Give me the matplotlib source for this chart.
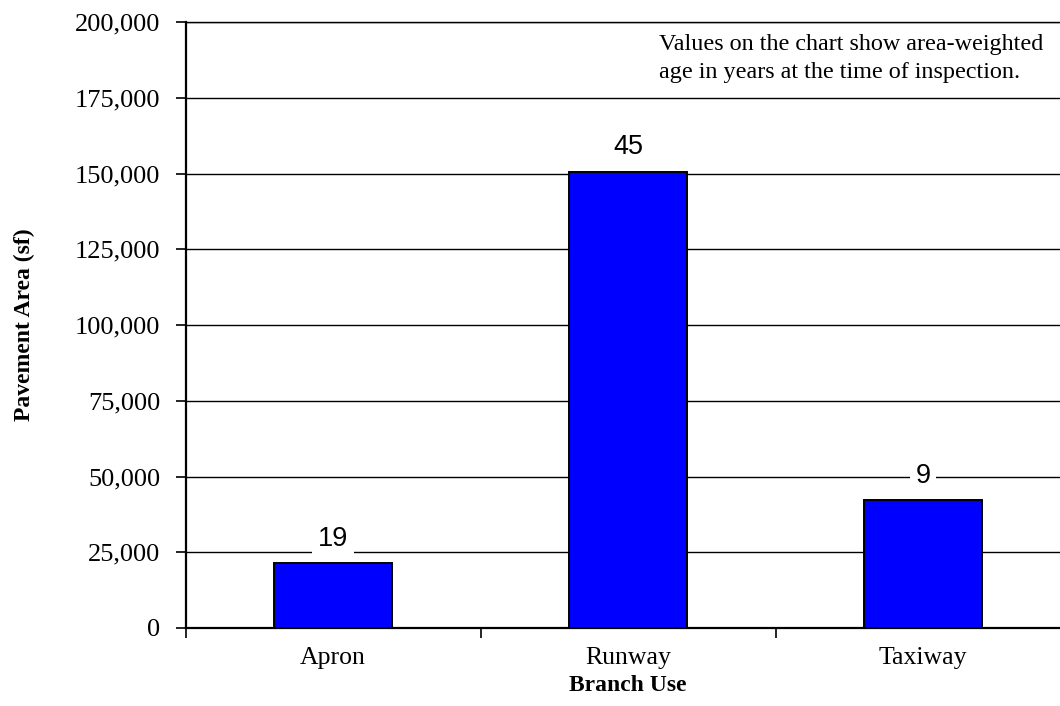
import matplotlib
matplotlib.use("Agg")
import matplotlib.pyplot as plt
from matplotlib.ticker import FuncFormatter, FixedLocator

# data
categories = ["Apron", "Runway", "Taxiway"]
areas = [21300, 150600, 42200]
ages = [19, 45, 9]

SERIF = "Liberation Serif"
SANS = "Liberation Sans"

fig = plt.figure(figsize=(10.6, 7.06), dpi=100)
ax = fig.add_axes([185.5 / 1060, 78 / 706, 885 / 1060, 606 / 706])

x = list(range(len(categories)))
bars = ax.bar(x, areas, width=0.40, color="#0000FF", edgecolor="black",
              linewidth=1.4, zorder=3)

ax.set_xlim(-0.5, 2.5)
ax.set_ylim(0, 200000)

# gridlines
ax.yaxis.grid(True, color="black", linewidth=1.0, zorder=0)
ax.set_axisbelow(True)

# y axis
ax.set_yticks(range(0, 200001, 25000))
ax.yaxis.set_major_formatter(FuncFormatter(lambda v, p: f"{int(v):,}"))
ax.tick_params(axis="y", direction="out", length=7, width=1.2,
               labelsize=19, pad=11)

# x axis: ticks at category boundaries, labels at centres
ax.xaxis.set_major_locator(FixedLocator([-0.5, 0.5, 1.5, 2.5]))
ax.xaxis.set_minor_locator(FixedLocator(x))
ax.set_xticklabels([], minor=False)
ax.set_xticklabels(categories, minor=True)
ax.tick_params(axis="x", which="major", direction="out", length=7, width=1.2)
ax.tick_params(axis="x", which="minor", length=0, labelsize=18.5, pad=14)

for lab in ax.get_xticklabels(minor=True) + ax.get_yticklabels():
    lab.set_fontfamily(SERIF)

ax.spines["right"].set_visible(False)
ax.spines["top"].set_linewidth(1.0)
ax.spines["left"].set_linewidth(1.6)
ax.spines["bottom"].set_linewidth(1.6)

ax.set_ylabel("Pavement Area (sf)", fontfamily=SERIF, fontsize=17,
              fontweight="bold")
ax.set_xlabel("Branch Use", fontfamily=SERIF, fontsize=17,
              fontweight="bold", labelpad=4)
ax.yaxis.set_label_coords(-150 / 885, 0.5)

# data labels (age)
for b, age in zip(bars, ages):
    ax.annotate(str(age), (b.get_x() + b.get_width() / 2, b.get_height()),
                xytext=(0, 17.5), textcoords="offset points",
                ha="center", va="center", fontfamily=SANS, fontsize=19.5,
                bbox=dict(boxstyle="square,pad=0.2", fc="white", ec="none"),
                zorder=4)

# note
fig.text(659 / 1060, 1 - 34 / 706,
         "Values on the chart show area-weighted\n"
         "age in years at the time of inspection.",
         ha="left", va="top", fontfamily=SERIF, fontsize=17.4,
         linespacing=1.45)

fig.savefig("out.png", dpi=100, facecolor="white")
